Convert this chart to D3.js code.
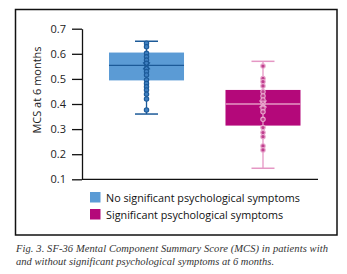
<!DOCTYPE html>
<html><head><meta charset="utf-8">
<script src="https://cdn.jsdelivr.net/npm/d3@7"></script>
<style>body{margin:0;background:#fff}svg{display:block}</style>
</head><body>
<script>
const groups = ["No significant psychological symptoms", "Significant psychological symptoms"];
const q1 = [0.494, 0.314];
const median = [0.554, 0.400];
const q3 = [0.605, 0.456];
const whiskerLow = [0.360, 0.144];
const whiskerHigh = [0.650, 0.570];
const means = [0.552, 0.400];
const pointsNo = [0.642, 0.628, 0.602, 0.588, 0.575, 0.562, 0.542, 0.529, 0.516, 0.496, 0.482, 0.469, 0.456, 0.439, 0.420, 0.376];
const pointsSig = [0.551, 0.502, 0.489, 0.472, 0.449, 0.432, 0.416, 0.403, 0.383, 0.369, 0.339, 0.306, 0.286, 0.270, 0.233, 0.217];
const yTicks = [0.1, 0.2, 0.3, 0.4, 0.5, 0.6, 0.7];
const yLabel = "MCS at 6 months";
const caption = ["Fig. 3. SF-36 Mental Component Summary Score (MCS) in patients with", "and without significant psychological symptoms at 6 months."];

const boxFill = ["#5b9bd5", "#b4087a"];
const lineCol = ["#1c5a98", "#e597c4"];
const ptFill = ["#3f7fc0", "#c0408f"];
const ptStroke = ["#1c5a98", "#e8a6cc"];

const W = 347, H = 274;
const svg = d3.select("body").append("svg").attr("width", W).attr("height", H);
const font = "'Open Sans', 'Noto Sans', sans-serif";

svg.append("rect").attr("x", 15.5).attr("y", 9.5).attr("width", 321.5).attr("height", 225.5)
  .attr("fill", "none").attr("stroke", "#111").attr("stroke-width", 1.5);

const y = d3.scaleLinear().domain([0.1, 0.7]).range([179.3, 28.7]);
const x = d3.scaleBand().domain(groups).range([97.35, 312.15]).paddingInner(0.356).paddingOuter(0.1);

const yAxis = svg.append("g").attr("transform", "translate(82,0)")
  .call(d3.axisLeft(y).tickValues(yTicks).tickFormat(d3.format(".1f")).tickSize(10).tickSizeOuter(0));
yAxis.select(".domain").attr("stroke", "#111").attr("stroke-width", 1.3);
yAxis.selectAll(".tick line").attr("stroke", "#111").attr("stroke-width", 1.3);
yAxis.selectAll(".tick text").attr("font-family", font).attr("font-size", 11).attr("fill", "#222").attr("x", -16);

svg.append("line").attr("x1", 82).attr("x2", 318).attr("y1", y(0.1)).attr("y2", y(0.1))
  .attr("stroke", "#111").attr("stroke-width", 1.3);

svg.append("text").attr("transform", `translate(41,${(y(0.1)+y(0.7))/2 - 14}) rotate(-90)`)
  .attr("text-anchor", "middle").attr("font-family", font).attr("font-size", 11).attr("fill", "#222").text(yLabel);

groups.forEach((g, i) => {
  const bx = x(g), bw = x.bandwidth(), cx = bx + bw / 2;
  const G = svg.append("g");
  G.append("rect").attr("x", bx).attr("y", y(q3[i])).attr("width", bw).attr("height", y(q1[i]) - y(q3[i]))
    .attr("fill", boxFill[i]);
  G.append("line").attr("x1", cx).attr("x2", cx).attr("y1", y(whiskerHigh[i])).attr("y2", y(whiskerLow[i]))
    .attr("stroke", lineCol[i]).attr("stroke-width", 1.3);
  [whiskerHigh[i], whiskerLow[i]].forEach(v => {
    G.append("line").attr("x1", cx - 11.5).attr("x2", cx + 11.5).attr("y1", y(v)).attr("y2", y(v))
      .attr("stroke", lineCol[i]).attr("stroke-width", 1.5);
  });
  G.append("line").attr("x1", bx).attr("x2", bx + bw).attr("y1", y(median[i])).attr("y2", y(median[i]))
    .attr("stroke", lineCol[i]).attr("stroke-width", 1.3);
  const pts = i === 0 ? pointsNo : pointsSig;
  G.selectAll("circle").data(pts).join("circle")
    .attr("cx", cx).attr("cy", d => y(d)).attr("r", 2.2)
    .attr("fill", ptFill[i]).attr("stroke", ptStroke[i]).attr("stroke-width", 1.1);
  const my = y(means[i]);
  G.append("path").attr("d", `M${cx-3.5},${my-3.5}L${cx+3.5},${my+3.5}M${cx+3.5},${my-3.5}L${cx-3.5},${my+3.5}`)
    .attr("stroke", ptStroke[i]).attr("stroke-width", 1.3).attr("fill", "none");
});

const leg = svg.append("g");
groups.forEach((g, i) => {
  const ly = 192 + i * 17;
  leg.append("rect").attr("x", 90).attr("y", ly).attr("width", 10.5).attr("height", 10.5).attr("fill", boxFill[i]);
  leg.append("text").attr("x", 106).attr("y", ly + 9.5).attr("font-family", font).attr("font-size", 10.8)
    .attr("fill", "#111").text(g);
});

svg.append("text").attr("x", 16).attr("y", 252).attr("font-family", "'Liberation Serif', serif")
  .attr("font-style", "italic").attr("font-size", 10.5).attr("fill", "#333")
  .attr("textLength", 312).attr("lengthAdjust", "spacing").text(caption[0]);
svg.append("text").attr("x", 16).attr("y", 264.5).attr("font-family", "'Liberation Serif', serif")
  .attr("font-style", "italic").attr("font-size", 10.5).attr("fill", "#333")
  .attr("textLength", 258).attr("lengthAdjust", "spacing").text(caption[1]);
</script>
</body></html>
